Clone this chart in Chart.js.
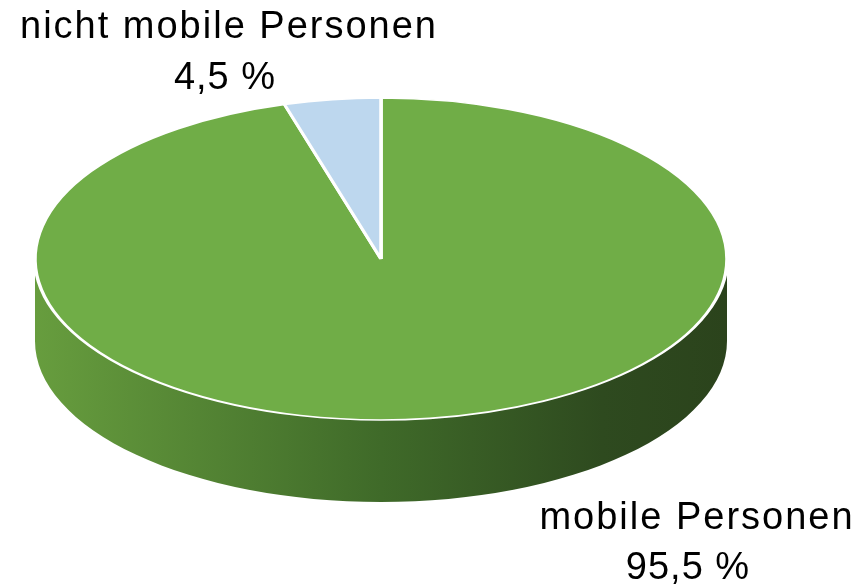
<!DOCTYPE html>
<html>
<head>
<meta charset="utf-8">
<script src="https://cdn.jsdelivr.net/npm/chart.js@4"></script>
<style>
  html, body { margin: 0; padding: 0; background: #fff; }
  #wrap { width: 862px; height: 588px; }
</style>
</head>
<body>
<div id="wrap"><canvas id="chart"></canvas></div>
<script>
const labels = ['mobile Personen', 'nicht mobile Personen'];
const shares = [95.5, 4.5];

// Top face colours and the darker side wall colours per slice
const topColors = ['#70ad47', '#bdd7ee'];
const wallStops = [
  ['#679d3e', '#3f6a29', '#2e4a1f', '#2b431c'],
  ['#9fb9d1', '#7d95ab', '#64798c', '#5e7283']
];

// Where the flattened pie sits on the page
const CX = 381, CY = 259, RX = 346, RY = 161, DEPTH = 82;

function fmt(v) {
  return v.toFixed(1).replace('.', ',') + ' %';
}

const pie3d = {
  id: 'pie3d',
  beforeDatasetsDraw(chart) {
    const ctx = chart.ctx;
    const arcs = chart.getDatasetMeta(0).data;
    const ref = arcs[0];

    // side wall of the front half
    arcs.forEach((arc, i) => {
      const s = arc.startAngle, e = arc.endAngle;
      [-2 * Math.PI, 0, 2 * Math.PI].forEach(k => {
        const lo = Math.max(s, k), hi = Math.min(e, k + Math.PI);
        if (lo >= hi) return;
        const g = ctx.createLinearGradient(CX - RX, 0, CX + RX, 0);
        const st = wallStops[i];
        g.addColorStop(0, st[0]);
        g.addColorStop(0.5, st[1]);
        g.addColorStop(0.82, st[2]);
        g.addColorStop(1, st[3]);
        ctx.save();
        ctx.beginPath();
        ctx.ellipse(CX, CY, RX, RY, 0, lo, hi);
        ctx.ellipse(CX, CY + DEPTH, RX, RY, 0, hi, lo, true);
        ctx.closePath();
        ctx.fillStyle = g;
        ctx.fill();
        ctx.restore();
      });
    });

    // squash the library's own arcs into the top ellipse
    ctx.save();
    ctx.translate(CX, CY);
    ctx.scale(RX / ref.outerRadius, RY / ref.outerRadius);
    ctx.translate(-ref.x, -ref.y);
  },
  afterDatasetsDraw(chart) {
    chart.ctx.restore();
  },
  afterDraw(chart) {
    const ctx = chart.ctx;
    ctx.save();
    ctx.fillStyle = '#000';
    ctx.font = '38px "Liberation Sans", Arial, sans-serif';
    ctx.textAlign = 'center';
    ctx.textBaseline = 'alphabetic';
    // category names
    ctx.letterSpacing = '2px';
    ctx.fillText(labels[1], 229, 38);
    ctx.fillText(labels[0], 697, 529);
    // percentages
    ctx.letterSpacing = '1px';
    ctx.fillText(fmt(shares[1]), 225, 89);
    ctx.fillText(fmt(shares[0]), 688, 579);
    ctx.restore();
  }
};

new Chart(document.getElementById('chart'), {
  type: 'pie',
  data: {
    labels: labels,
    datasets: [{
      data: shares,
      backgroundColor: topColors,
      borderColor: '#ffffff',
      borderWidth: 3
    }]
  },
  options: {
    responsive: true,
    maintainAspectRatio: false,
    animation: false,
    events: [],
    layout: { padding: 0 },
    plugins: {
      legend: { display: false },
      tooltip: { enabled: false }
    }
  },
  plugins: [pie3d]
});
</script>
</body>
</html>
